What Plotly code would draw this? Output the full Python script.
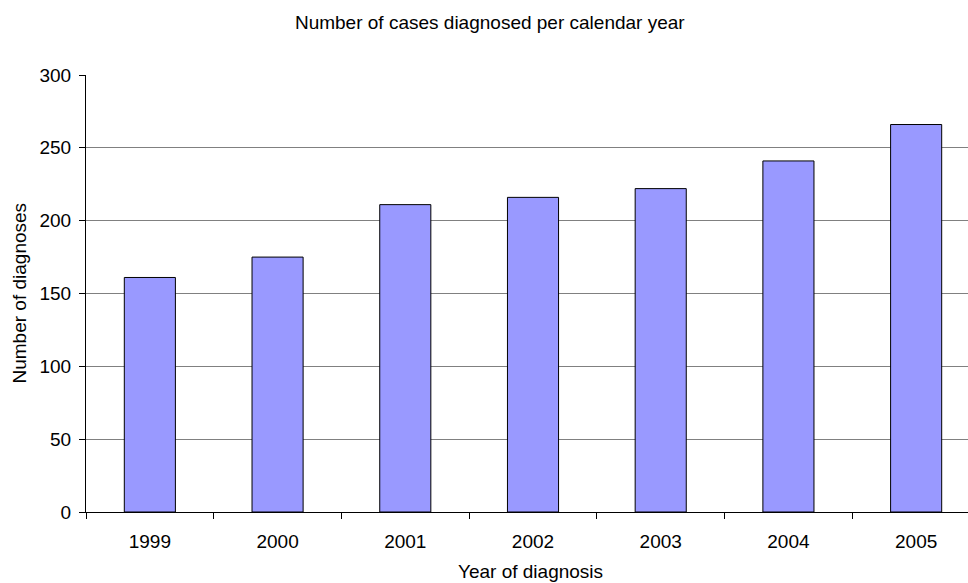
import plotly.graph_objects as go

# Annual diagnosis counts
years = ["1999", "2000", "2001", "2002", "2003", "2004", "2005"]
diagnoses = [161, 175, 211, 216, 222, 241, 266]
y_ticks = [0, 50, 100, 150, 200, 250, 300]

FONT = "Liberation Sans, Arial, sans-serif"
SIZE = 19

fig = go.Figure(
    go.Bar(
        x=years,
        y=diagnoses,
        width=0.40,
        marker=dict(color="#9999FF", line=dict(color="#000000", width=1)),
    )
)

fig.update_layout(
    width=968,
    height=583,
    margin=dict(l=86, r=0, t=75, b=71),
    paper_bgcolor="white",
    plot_bgcolor="white",
    font=dict(family=FONT, size=SIZE, color="#000000"),
    showlegend=False,
    title=dict(
        text="Number of cases diagnosed per calendar year",
        x=0.506,
        xref="container",
        xanchor="center",
        y=1 - 22 / 583,
        yref="container",
        yanchor="middle",
        font=dict(family=FONT, size=SIZE, color="#000000"),
    ),
    xaxis=dict(
        type="category",
        range=[-0.5, 6.406],
        tickson="boundaries",
        ticks="outside",
        ticklen=6,
        tickcolor="#000000",
        showline=True,
        linecolor="#000000",
        linewidth=1,
        showgrid=False,
        zeroline=False,
        ticklabelstandoff=12,
    ),
    yaxis=dict(
        range=[0, 300],
        tickvals=y_ticks,
        ticks="outside",
        ticklen=6,
        tickcolor="#000000",
        showline=True,
        linecolor="#000000",
        linewidth=1,
        showgrid=True,
        gridcolor="#808080",
        gridwidth=1,
        zeroline=False,
        ticklabelstandoff=4,
    ),
    annotations=[
        dict(
            text="Year of diagnosis",
            xref="paper",
            yref="paper",
            x=(530 - 86) / 882,
            y=(512 - 571) / 437,
            xanchor="center",
            yanchor="middle",
            showarrow=False,
            font=dict(family=FONT, size=SIZE, color="#000000"),
        ),
        dict(
            text="Number of diagnoses",
            xref="paper",
            yref="paper",
            x=(19 - 86) / 882,
            y=0.5,
            xanchor="center",
            yanchor="middle",
            textangle=-90,
            showarrow=False,
            font=dict(family=FONT, size=SIZE, color="#000000"),
        ),
    ],
)

fig.write_html("out.html")
